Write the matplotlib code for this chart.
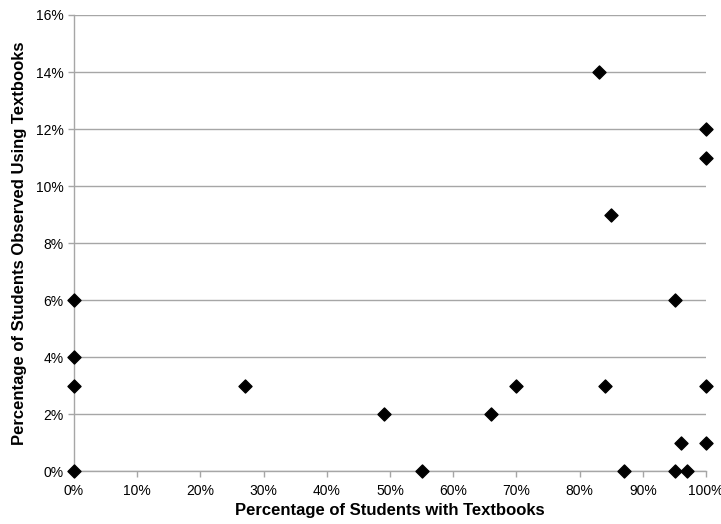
import matplotlib
matplotlib.use('Agg')
import matplotlib.pyplot as plt
from matplotlib.ticker import FuncFormatter

# 資料 (百分比)
with_textbooks = [0, 0, 0, 0, 27, 49, 55, 66, 70, 83, 84, 85, 87,
                  95, 95, 96, 97, 100, 100, 100, 100]
using_textbooks = [0, 3, 4, 6, 3, 2, 0, 2, 3, 14, 3, 9, 0,
                   6, 0, 1, 0, 12, 11, 3, 1]

x_ticks = list(range(0, 101, 10))
y_ticks = list(range(0, 17, 2))

plt.rcParams['font.family'] = ['Liberation Sans', 'DejaVu Sans']

fig = plt.figure(figsize=(7.21, 5.24), dpi=100)
ax = fig.add_axes([0.1026, 0.1006, 0.8768, 0.8708])

grid_c = '#a6a6a6'
ax.set_axisbelow(True)
ax.grid(axis='y', color=grid_c, linewidth=1)
ax.scatter(with_textbooks, using_textbooks, marker='D', s=44,
           color='black', zorder=3, clip_on=False)

ax.set_xlim(0, 100)
ax.set_ylim(0, 16)
ax.set_xticks(x_ticks)
ax.set_yticks(y_ticks)
pct = FuncFormatter(lambda v, p: '%d%%' % v)
ax.xaxis.set_major_formatter(pct)
ax.yaxis.set_major_formatter(pct)
ax.tick_params(axis='both', labelsize=10, colors=grid_c, labelcolor='black',
               length=4, width=1)
ax.tick_params(axis='x', pad=5)

for side in ['top', 'right']:
    ax.spines[side].set_visible(False)
for side in ['left', 'bottom']:
    ax.spines[side].set_color(grid_c)
    ax.spines[side].set_linewidth(1)

ax.set_xlabel('Percentage of Students with Textbooks', fontsize=12,
              fontweight='bold', labelpad=4)
ax.set_ylabel('Percentage of Students Observed Using Textbooks', fontsize=12,
              fontweight='bold', labelpad=6)

fig.savefig('out.png', dpi=100)
